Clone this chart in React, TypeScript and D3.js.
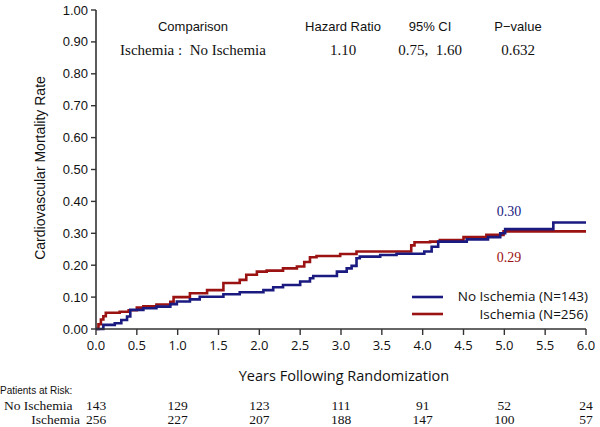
import React from 'react';
import * as d3 from 'd3';

// step estimates
const noIschTimes = [0, 0.09, 0.23, 0.31, 0.38, 0.42, 0.58, 0.74, 0.91, 0.99, 1.15, 1.27, 1.56, 1.76, 2.05, 2.17, 2.29, 2.5, 2.62, 2.66, 2.95, 3.07, 3.13, 3.19, 3.23, 3.48, 3.68, 4.02, 4.11, 4.19, 4.54, 4.8, 4.95, 5.01, 5.6, 6.0];
const noIschRates = [0, 0.013, 0.018, 0.028, 0.039, 0.06, 0.065, 0.07, 0.078, 0.086, 0.093, 0.101, 0.109, 0.115, 0.122, 0.131, 0.138, 0.149, 0.159, 0.166, 0.18, 0.19, 0.198, 0.222, 0.227, 0.232, 0.236, 0.243, 0.258, 0.274, 0.281, 0.288, 0.3, 0.313, 0.334, 0.334];
const ischTimes = [0, 0.03, 0.06, 0.09, 0.12, 0.29, 0.4, 0.5, 0.58, 0.74, 0.91, 0.95, 1.15, 1.36, 1.56, 1.76, 1.84, 1.97, 2.09, 2.29, 2.46, 2.55, 2.62, 2.7, 2.99, 3.19, 3.86, 3.9, 4.09, 4.21, 4.5, 4.78, 4.99, 6.0];
const ischRates = [0, 0.015, 0.03, 0.04, 0.051, 0.054, 0.059, 0.067, 0.071, 0.077, 0.085, 0.1, 0.112, 0.122, 0.144, 0.154, 0.17, 0.18, 0.183, 0.19, 0.196, 0.21, 0.225, 0.229, 0.235, 0.243, 0.262, 0.272, 0.274, 0.279, 0.288, 0.295, 0.306, 0.306];

const xTicks = [0, 0.5, 1, 1.5, 2, 2.5, 3, 3.5, 4, 4.5, 5, 5.5, 6];
const yTicks = [0, 0.1, 0.2, 0.3, 0.4, 0.5, 0.6, 0.7, 0.8, 0.9, 1.0];
const riskYears = [0, 1, 2, 3, 4, 5, 6];
const riskNoIsch = [143, 129, 123, 111, 91, 52, 24];
const riskIsch = [256, 227, 207, 188, 147, 100, 57];

const headers = ['Comparison', 'Hazard Ratio', '95% CI', 'P\u2212value'];
const rowVals = ['Ischemia :  No Ischemia', '1.10', '0.75,  1.60', '0.632'];
const colX = [193, 343, 430, 518];

const BLUE = '#1a1a80';
const RED = '#9b1212';
const AXIS = '#333';
const SANS = 'Liberation Sans, Arial, sans-serif';
const SANS2 = 'Open Sans, sans-serif';
const SERIF = 'Liberation Serif, serif';

export default function App() {
  const x = d3.scaleLinear().domain([0, 6]).range([96, 586]);
  const y = d3.scaleLinear().domain([0, 1]).range([329, 10]);
  const line = d3.line<[number, number]>()
    .x(d => x(d[0])).y(d => y(d[1]))
    .curve(d3.curveStepAfter);

  const blue = noIschTimes.map((t, i) => [t, noIschRates[i]] as [number, number]);
  const red = ischTimes.map((t, i) => [t, ischRates[i]] as [number, number]);

  return (
    <svg width={600} height={427} style={{ position: 'absolute', left: 0, top: 0, background: '#fff' }}>
      {/* header table */}
      {headers.map((h, i) => (
        <text key={h} x={colX[i]} y={31} textAnchor="middle" fontFamily={SANS} fontSize={13} fill="#111">{h}</text>
      ))}
      {rowVals.map((v, i) => (
        <text key={i} x={colX[i]} y={55} textAnchor="middle" fontFamily={SERIF} fontSize={15} fill="#111" style={{ whiteSpace: 'pre' }}>{v}</text>
      ))}

      {/* curves */}
      <path d={line(red) || ''} fill="none" stroke={RED} strokeWidth={2.6} />
      <path d={line(blue) || ''} fill="none" stroke={BLUE} strokeWidth={2.6} />

      {/* axes */}
      <line x1={96} x2={96} y1={y(1)} y2={y(0)} stroke={AXIS} strokeWidth={1.6} />
      {yTicks.map(t => (
        <g key={t}>
          <line x1={91} x2={96} y1={y(t)} y2={y(t)} stroke={AXIS} strokeWidth={1.4} />
          <text x={88} y={y(t)} dy="0.35em" textAnchor="end" fontFamily={SANS} fontSize={13} fill="#111">{t.toFixed(2)}</text>
        </g>
      ))}
      <line x1={x(0)} x2={x(6)} y1={329} y2={329} stroke={AXIS} strokeWidth={1.6} />
      {xTicks.map(t => (
        <g key={t}>
          <line x1={x(t)} x2={x(t)} y1={329} y2={335} stroke={AXIS} strokeWidth={1.4} />
          <text x={x(t)} y={350} textAnchor="middle" fontFamily={SANS2} fontSize={13} fill="#111">{t.toFixed(1)}</text>
        </g>
      ))}
      <text transform="translate(45,168) rotate(-90)" textAnchor="middle" fontFamily={SANS} fontSize={14} fill="#111">Cardiovascular Mortality Rate</text>
      <text x={344} y={381} textAnchor="middle" fontFamily={SANS2} fontSize={14.5} fill="#111">Years Following Randomization</text>

      {/* end labels */}
      <text x={509} y={216} textAnchor="middle" fontFamily={SERIF} fontSize={14} fill={BLUE}>0.30</text>
      <text x={509} y={262} textAnchor="middle" fontFamily={SERIF} fontSize={14} fill={RED}>0.29</text>

      {/* legend */}
      <line x1={412} x2={443} y1={297} y2={297} stroke={BLUE} strokeWidth={2.6} />
      <line x1={412} x2={443} y1={314} y2={314} stroke={RED} strokeWidth={2.6} />
      <text x={588} y={301} textAnchor="end" fontFamily={SANS2} fontSize={13.5} fill="#111">No Ischemia (N=143)</text>
      <text x={588} y={319} textAnchor="end" fontFamily={SANS2} fontSize={13.5} fill="#111">Ischemia (N=256)</text>

      {/* patients at risk */}
      <text x={0} y={394} fontFamily={SANS} fontSize={10} fill="#111">Patients at Risk:</text>
      <text x={4} y={410} fontFamily={SERIF} fontSize={13.5} fill="#111">No Ischemia</text>
      <text x={80} y={424} textAnchor="end" fontFamily={SERIF} fontSize={13.5} fill="#111">Ischemia</text>
      {riskYears.map((yr, i) => (
        <g key={yr}>
          <text x={x(yr)} y={410} textAnchor="middle" fontFamily={SERIF} fontSize={13.5} fill="#111">{riskNoIsch[i]}</text>
          <text x={x(yr)} y={424} textAnchor="middle" fontFamily={SERIF} fontSize={13.5} fill="#111">{riskIsch[i]}</text>
        </g>
      ))}
    </svg>
  );
}
